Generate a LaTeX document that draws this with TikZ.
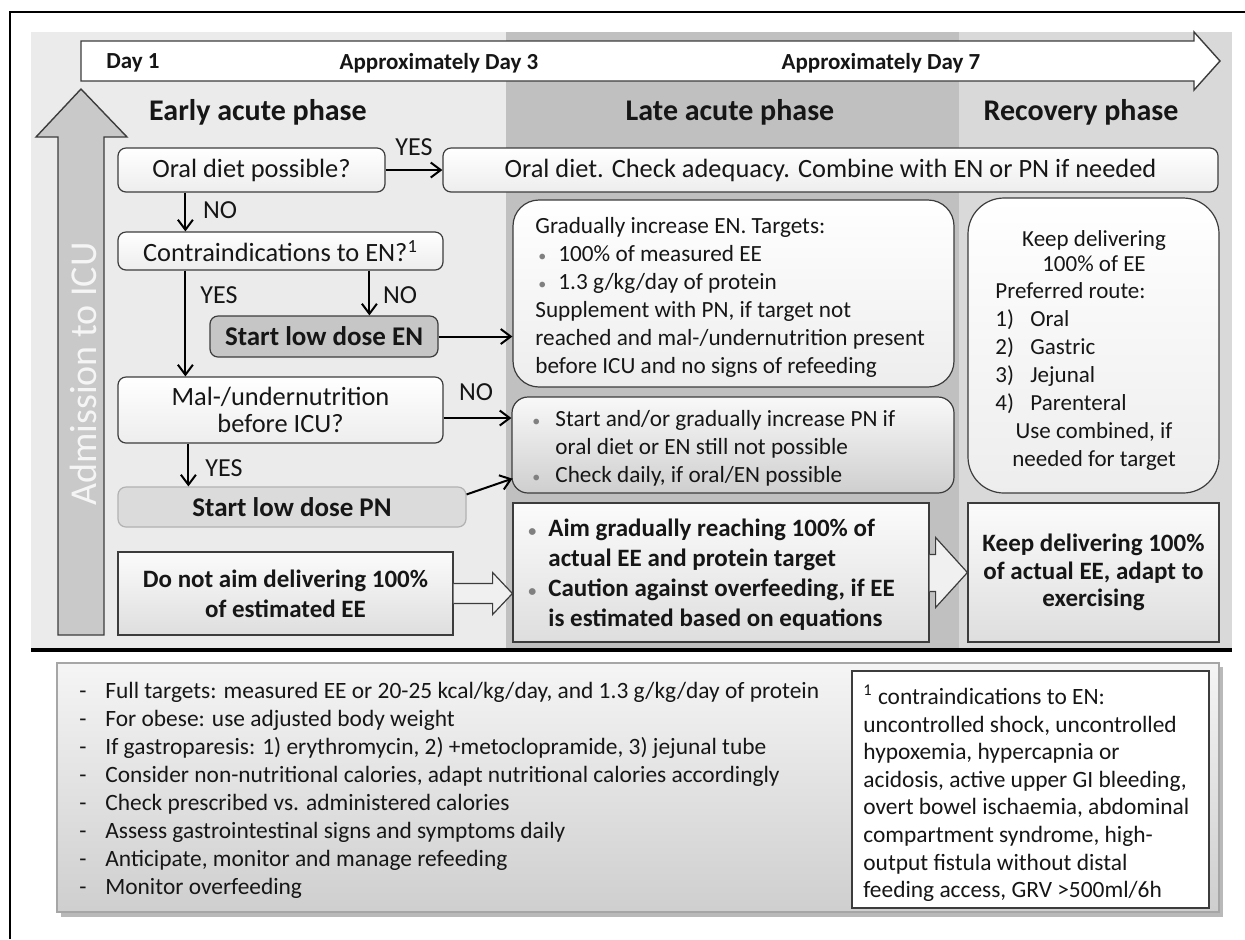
\documentclass[tikz,border=0pt]{standalone}
\usepackage{fontspec}
\setmainfont{Carlito}
\usetikzlibrary{arrows.meta,calc}
\definecolor{bcol}{HTML}{3C3C3C}
\definecolor{tcol}{HTML}{161616}
\definecolor{colA}{HTML}{EBEBEB}
\definecolor{colB}{HTML}{C0C0C0}
\definecolor{colC}{HTML}{D9D9D9}
\newcommand\mybul{\textcolor{gray}{\fontsize{8}{8}\selectfont\textbullet}}
\begin{document}
\begin{tikzpicture}[x=0.5pt,y=-0.5pt,
  every node/.style={text=tcol},
  lbox/.style={draw=bcol, line width=0.6pt, rounded corners=4pt, top color=white, bottom color=gray!14, inner sep=0pt, font=\fontsize{13.2}{13.5}\selectfont},
  enbox/.style={draw=bcol, line width=0.6pt, rounded corners=4pt, fill=gray!45, inner sep=0pt, font=\bfseries\fontsize{13.5}{15}\selectfont},
  pnsmall/.style={draw=gray!60, line width=0.6pt, rounded corners=4pt, fill=gray!28, inner sep=0pt, font=\bfseries\fontsize{13.5}{15}\selectfont},
  pnb/.style={draw=bcol, line width=0.6pt, top color=gray!5, bottom color=gray!38, inner sep=0pt},
  bbox/.style={draw=bcol, line width=0.6pt, top color=gray!3, bottom color=gray!26, inner sep=0pt, font=\bfseries\fontsize{12.5}{15}\selectfont},
  txt/.style={inner sep=0pt, font=\fontsize{11.6}{14}\selectfont},
  lbl/.style={inner sep=0pt, font=\fontsize{13}{15}\selectfont},
  day/.style={inner sep=0pt, font=\bfseries\fontsize{11.5}{13}\selectfont},
  phase/.style={inner sep=0pt, font=\bfseries\fontsize{15}{17}\selectfont},
  arr/.style={-{Straight Barb[length=5pt,width=7.5pt]}, line width=1pt, draw=black},
  blockarr/.style={fill=gray!12, draw=bcol, line width=0.6pt}
]
\useasboundingbox (0,0) rectangle (1245,939);
\fill[white] (0,0) rectangle (1245,939);
% outer frame
\draw[line width=1pt] (10,939) -- (10,12) -- (1245,12);
% phase columns
\fill[colA] (31,32) rectangle (506,650);
\fill[colB] (506,32) rectangle (959,650);
\fill[colC] (959,32) rectangle (1232,650);
\draw[line width=1.6pt] (31,650) -- (1232,650);

% timeline arrow
\draw[fill=white, draw=bcol, line width=0.7pt] (81,41) -- (1194,41) -- (1194,32) -- (1220,61) -- (1194,90) -- (1194,81) -- (81,81) -- cycle;
\node[day] (d1) at (133,63) {Day 1};
\node[day] (d3) at (439,63) {Approximately Day 3};
\node[day] (d7) at (881,63) {Approximately Day 7};

% phase titles
\node[phase] (ph1) at (258,112) {Early acute phase};
\node[phase] (ph2) at (730,112) {Late acute phase};
\node[phase] (ph3) at (1081,112) {Recovery phase};

% admission arrow
\draw[fill=gray!42, draw=bcol, line width=0.7pt] (58,635) -- (58,137) -- (36,137) -- (81,89) -- (127,137) -- (104,137) -- (104,635) -- cycle;
\node[rotate=90, inner sep=0pt, font=\fontsize{19}{21}\selectfont, text=gray!8] (adm) at (83,374) {Admission to ICU};

% boxes, early phase
\node[lbox, minimum width=133.5pt, minimum height=22pt] (oral) at (251.5,170) {Oral diet possible?};
\node[lbox, minimum width=387.5pt, minimum height=22pt] (oraldiet) at (830.5,170) {Oral diet. Check adequacy. Combine with EN or PN if needed};
\node[lbox, minimum width=162.5pt, minimum height=19pt] (contra) at (280.5,251) {Contraindications to EN?\textsuperscript{1}};
\node[enbox, minimum width=114pt, minimum height=20.5pt] (startEN) at (324,336.5) {Start low dose EN};
\node[lbox, minimum width=162.5pt, minimum height=33pt, align=center] (mal) at (280.5,410) {Mal-/undernutrition\\before ICU?};
\node[pnsmall, minimum width=174pt, minimum height=20pt] (startPN) at (292,507) {Start low dose PN};
\node[bbox, minimum width=167.5pt, minimum height=41.5pt, align=center] (donot) at (285.5,593.5) {Do not aim delivering 100\%\\of estimated EE};

% late acute phase
\node[lbox, rounded corners=13pt, minimum width=220.5pt, minimum height=93.5pt] (grad) at (733.5,293.5) {};
\node[txt, anchor=west, align=left] (gradtxt) at (535,297) {Gradually increase EN. Targets:\\
\hspace*{1.5pt}\makebox[10pt][l]{\mybul}100\% of measured EE\\
\hspace*{1.5pt}\makebox[10pt][l]{\mybul}1.3 g/kg/day of protein\\
Supplement with PN, if target not\\
reached and mal-/undernutrition present\\
before ICU and no signs of refeeding};
\node[pnb, rounded corners=8pt, minimum width=221pt, minimum height=48pt] (pnbox) at (733,445) {};
\node[txt, anchor=west, align=left] (pntxt) at (529,448) {\makebox[13pt][l]{\hspace*{1.5pt}\mybul}Start and/or gradually increase PN if\\
\hspace*{13pt}oral diet or EN still not possible\\
\makebox[13pt][l]{\hspace*{1.5pt}\mybul}Check daily, if oral/EN possible};
\node[bbox, minimum width=208pt, minimum height=69.5pt] (aim) at (721,572.5) {};
\node[txt, anchor=west, align=left, font=\bfseries\fontsize{12.5}{15}\selectfont] (aimtxt) at (528,575) {\makebox[10pt][l]{\mybul}Aim gradually reaching 100\% of\\
\hspace*{10pt}actual EE and protein target\\
\makebox[10pt][l]{\mybul}Caution against overfeeding, if EE\\
\hspace*{10pt}is estimated based on equations};

% recovery phase
\node[lbox, rounded corners=18pt, minimum width=125.5pt, minimum height=147.5pt] (rec) at (1093.5,345.5) {};
\node[txt, align=center, font=\fontsize{11.5}{12.5}\selectfont] (rectop) at (1094,251) {Keep delivering\\100\% of EE};
\node[txt, anchor=west, align=left, font=\fontsize{11.5}{14}\selectfont] (reclist) at (995,348) {Preferred route:\\
\makebox[17.5pt][l]{1)}Oral\\
\makebox[17.5pt][l]{2)}Gastric\\
\makebox[17.5pt][l]{3)}Jejunal\\
\makebox[17.5pt][l]{4)}Parenteral};
\node[txt, align=center, font=\fontsize{11.5}{14}\selectfont] (recbot) at (1094,446) {Use combined, if\\needed for target};
\node[bbox, minimum width=125.5pt, minimum height=69.5pt, align=center, font=\bfseries\fontsize{12.5}{13.75}\selectfont] (rec2) at (1093.5,572.5) {Keep delivering 100\%\\of actual EE, adapt to\\exercising};

% connectors
\draw[arr] (oral.east) -- (oraldiet.west);
\node[lbl] (yes1) at (414,147) {YES};
\coordinate (c1) at ($(oral.south west)+(68,0)$);
\draw[arr] (c1) -- (c1 |- contra.north);
\node[lbl] (no1) at (220,210) {NO};
\coordinate (c2) at ($(contra.south west)+(68,0)$);
\draw[arr] (c2) -- (c2 |- mal.north);
\node[lbl] (yes2) at (219,295) {YES};
\coordinate (c3) at ($(contra.south west)+(252,0)$);
\draw[arr] (c3) -- (c3 |- startEN.north);
\node[lbl] (no2) at (400,295) {NO};
\draw[arr] (startEN.east) -- (startEN.east -| grad.west);
\coordinate (c4) at ($(mal.east)+(0,8)$);
\draw[arr] (c4) -- (c4 -| pnbox.west);
\node[lbl] (no3) at (476,392) {NO};
\coordinate (c5) at ($(mal.south west)+(71,0)$);
\draw[arr] (c5) -- (c5 |- startPN.north);
\node[lbl] (yes3) at (224,468) {YES};
\draw[arr] ($(startPN.north east)+(0,8)$) -- ($(pnbox.south west)+(1,-15)$);

% block arrows
\filldraw[blockarr] ($(donot.east)+(0,-10)$) -- ++(39,0) -- ++(0,-11) -- (aim.west |- donot.east) -- ($(donot.east)+(39,21)$) -- ++(0,-11) -- ($(donot.east)+(0,10)$);
\filldraw[blockarr] ($(aim.east)+(0,-18)$) -- ++(6,0) -- ++(0,-17) -- (rec2.west) -- ($(aim.east)+(6,35)$) -- ++(0,-16) -- ($(aim.east)+(0,19)$);

% bottom panel
\fill[gray!55] (61,667) rectangle (1223,917);
\node[draw=gray!70, line width=0.6pt, top color=gray!8, bottom color=gray!38, inner sep=0pt, minimum width=581pt, minimum height=124.5pt] (panel) at (638,787.5) {};
\node[txt, anchor=west, align=left, font=\fontsize{11.7}{13.95}\selectfont] (paneltxt) at (79,790.5) {\makebox[13pt][l]{-}Full targets: measured EE or 20-25 kcal/kg/day, and 1.3 g/kg/day of protein\\
\makebox[13pt][l]{-}For obese: use adjusted body weight\\
\makebox[13pt][l]{-}If gastroparesis: 1) erythromycin, 2) +metoclopramide, 3) jejunal tube\\
\makebox[13pt][l]{-}Consider non-nutritional calories, adapt nutritional calories accordingly\\
\makebox[13pt][l]{-}Check prescribed vs. administered calories\\
\makebox[13pt][l]{-}Assess gastrointestinal signs and symptoms daily\\
\makebox[13pt][l]{-}Anticipate, monitor and manage refeeding\\
\makebox[13pt][l]{-}Monitor overfeeding};
\node[draw=bcol, line width=0.6pt, fill=white, inner sep=0pt, minimum width=178.5pt, minimum height=118.5pt] (foot) at (1030.5,789.5) {};
\node[txt, anchor=west, align=left, font=\fontsize{11.7}{13.8}\selectfont] (foottxt) at (863,793.5) {\textsuperscript{1} contraindications to EN:\\
uncontrolled shock, uncontrolled\\
hypoxemia, hypercapnia or\\
acidosis, active upper GI bleeding,\\
overt bowel ischaemia, abdominal\\
compartment syndrome, high-\\
output fistula without distal\\
feeding access, GRV >500ml/6h};
\end{tikzpicture}
\end{document}
